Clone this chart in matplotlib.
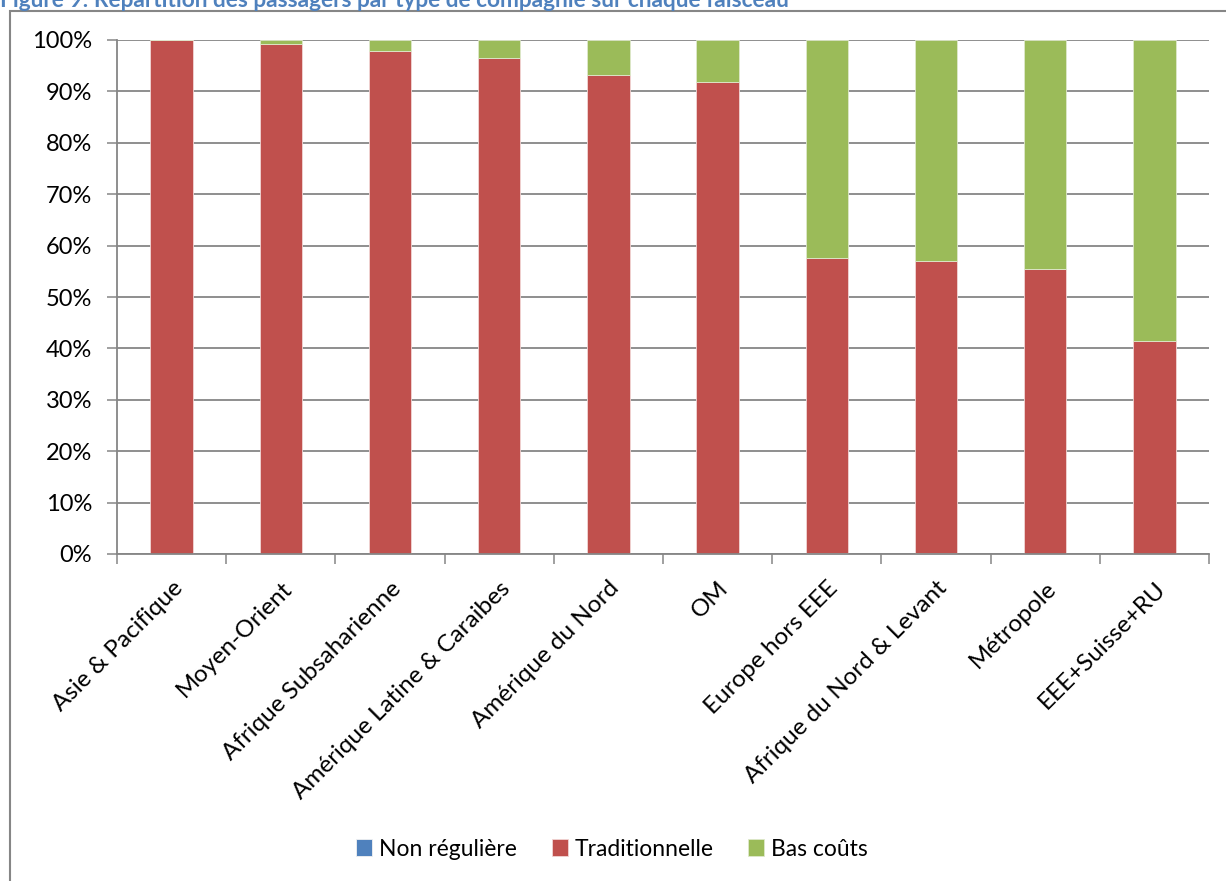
import numpy as np
import matplotlib
matplotlib.use('Agg')
import matplotlib.pyplot as plt
from matplotlib.patches import Rectangle

plt.rcParams['font.family'] = ['Lato', 'DejaVu Sans']

BLUE  = '#4F81BD'
RED   = '#C0504D'
GREEN = '#9BBB59'
GRID  = '#868686'

# ── Data (share of passengers, %) ────────────────────────────
faisceaux = ['Asie & Pacifique', 'Moyen-Orient', 'Afrique Subsaharienne',
             'Amérique Latine & Caraibes', 'Amérique du Nord', 'OM',
             'Europe hors EEE', 'Afrique du Nord & Levant', 'Métropole',
             'EEE+Suisse+RU']
non_reguliere  = [0.0, 0.0, 0.0, 0.0, 0.0, 0.0, 0.1, 0.1, 0.0, 0.0]
traditionnelle = [100.0, 99.2, 97.8, 96.5, 93.2, 91.8, 57.5, 56.9, 55.4, 41.4]
bas_couts      = [100 - a - b for a, b in zip(non_reguliere, traditionnelle)]
yticks = np.arange(0, 101, 10)

fig = plt.figure(figsize=(12.26, 8.81), dpi=100)
ax = fig.add_axes([117/1226, 1 - 554/881, (1209 - 117)/1226, (554 - 40)/881])

x = np.arange(len(faisceaux))
w = 0.39
b1 = ax.bar(x, non_reguliere, w, color=BLUE, edgecolor='#f2f2f2', linewidth=0.6, label='Non régulière')
b2 = ax.bar(x, traditionnelle, w, bottom=non_reguliere, color=RED,
            edgecolor='#f2d6d5', linewidth=0.6, label='Traditionnelle')
bottom3 = [a + b for a, b in zip(non_reguliere, traditionnelle)]
b3 = ax.bar(x, bas_couts, w, bottom=bottom3, color=GREEN,
            edgecolor='#dfe9cc', linewidth=0.6, label='Bas coûts')

ax.set_xlim(-0.5, len(faisceaux) - 0.5)
ax.set_ylim(0, 100)
ax.set_axisbelow(True)
ax.yaxis.grid(True, color=GRID, linewidth=1.3)
ax.set_yticks(yticks)
ax.set_yticklabels([f'{v}%' for v in yticks], fontsize=17)
ax.tick_params(axis='y', length=7, width=1.1, color=GRID, pad=11)

# category boundary ticks (major) + centred labels (minor)
ax.set_xticks(np.arange(-0.5, len(faisceaux), 1.0))
ax.set_xticklabels([])
ax.tick_params(axis='x', which='major', length=7, width=1.1, color=GRID)
ax.set_xticks(x, minor=True)
ax.set_xticklabels(faisceaux, minor=True, rotation=45, ha='right',
                   rotation_mode='anchor', fontsize=17.5)
ax.tick_params(axis='x', which='minor', length=0, pad=17)

for s in ['top', 'right']:
    ax.spines[s].set_visible(False)
for s in ['left', 'bottom']:
    ax.spines[s].set_color(GRID)
    ax.spines[s].set_linewidth(1.3)

# chart frame (cut by image edges)
fig.patches.append(Rectangle((10/1226, -0.1), 1.2, 1 - 11/881 + 0.1,
                             transform=fig.transFigure, fill=False,
                             edgecolor=GRID, linewidth=1.5))

fig.text(0.0, 1 - 7/881, 'Figure 9: Répartition des passagers par type de compagnie sur chaque faisceau',
         color=BLUE, fontsize=16.3, fontweight='bold', ha='left', va='baseline')

fig.legend(handles=[b1, b2, b3], loc='center', bbox_to_anchor=(612/1226, 1 - 849/881),
           ncol=3, frameon=False, fontsize=16.5, handlelength=0.7, handleheight=0.7,
           handletextpad=0.3, columnspacing=1.5)

plt.savefig('out.png', dpi=100)
plt.close()
